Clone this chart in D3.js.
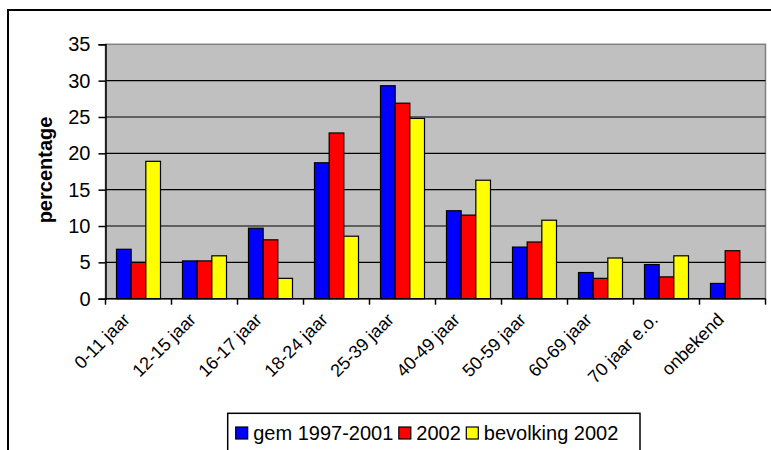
<!DOCTYPE html>
<html>
<head>
<meta charset="utf-8">
<script src="https://cdn.jsdelivr.net/npm/d3@7"></script>
<style>
  html, body { margin: 0; padding: 0; background: #fff; }
  svg { display: block; font-family: "Liberation Sans", Arial, sans-serif; }
</style>
</head>
<body>
<svg id="chart" width="771" height="450"></svg>
<script>
// Age groups and percentages per series
const categories = ["0-11 jaar", "12-15 jaar", "16-17 jaar", "18-24 jaar", "25-39 jaar",
                    "40-49 jaar", "50-59 jaar", "60-69 jaar", "70 jaar e.o.", "onbekend"];
const seriesNames = ["gem 1997-2001", "2002", "bevolking 2002"];
const gemValues = [6.8, 5.2, 9.7, 18.7, 29.3, 12.1, 7.1, 3.6, 4.7, 2.1];
const values2002 = [5.0, 5.2, 8.1, 22.8, 26.9, 11.5, 7.8, 2.8, 3.0, 6.6];
const bevolking2002 = [18.9, 5.9, 2.8, 8.6, 24.8, 16.3, 10.8, 5.6, 5.9, null];
const seriesColors = ["#0000FF", "#FF0000", "#FFFF00"];
const yTicks = [0, 5, 10, 15, 20, 25, 30, 35];

const seriesValues = [gemValues, values2002, bevolking2002];

const svg = d3.select("#chart");

// chart frame
svg.append("rect")
  .attr("x", 8).attr("y", 10).attr("width", 800).attr("height", 480)
  .attr("fill", "#fff").attr("stroke", "#000").attr("stroke-width", 2);

const plot = { left: 105.5, right: 765.5, top: 44.3, bottom: 298.7 };

const x = d3.scaleBand().domain(categories).range([plot.left, plot.right]).paddingInner(0).paddingOuter(0);
const xs = d3.scaleBand().domain(seriesNames).range([0, x.bandwidth()]).paddingInner(0).paddingOuter(0.75);
const y = d3.scaleLinear().domain([0, 35]).range([plot.bottom, plot.top]);

// plot background
svg.append("rect")
  .attr("x", plot.left).attr("y", plot.top)
  .attr("width", plot.right - plot.left).attr("height", plot.bottom - plot.top)
  .attr("fill", "#C0C0C0").attr("stroke", "#808080").attr("stroke-width", 1.5);

// gridlines
svg.append("g").selectAll("line")
  .data(yTicks.filter(t => t > 0 && t < 35))
  .join("line")
  .attr("x1", plot.left).attr("x2", plot.right)
  .attr("y1", d => y(d)).attr("y2", d => y(d))
  .attr("stroke", "#000").attr("stroke-width", 1.2);

// bars
const groups = svg.append("g").selectAll("g")
  .data(categories)
  .join("g")
  .attr("transform", d => `translate(${x(d)},0)`);

groups.selectAll("rect")
  .data((c, i) => seriesNames.map((s, k) => ({ s, v: seriesValues[k][i], k })).filter(d => d.v != null))
  .join("rect")
  .attr("x", d => xs(d.s))
  .attr("width", xs.bandwidth())
  .attr("y", d => y(d.v))
  .attr("height", d => y(0) - y(d.v))
  .attr("fill", d => seriesColors[d.k])
  .attr("stroke", "#000").attr("stroke-width", 1.2);

// y axis
const yAxis = d3.axisLeft(y).tickValues(yTicks).tickSize(7).tickPadding(8);
const gy = svg.append("g").attr("transform", `translate(${plot.left},0)`).call(yAxis);
gy.select(".domain").attr("stroke", "#000").attr("stroke-width", 1.5);
gy.selectAll(".tick line").attr("stroke", "#000").attr("stroke-width", 1.5);
gy.selectAll(".tick text").attr("font-size", 20).attr("font-family", "Liberation Sans, Arial, sans-serif").attr("fill", "#000");

// x axis with ticks at category boundaries
const gx = svg.append("g");
gx.append("line")
  .attr("x1", plot.left).attr("x2", plot.right)
  .attr("y1", plot.bottom).attr("y2", plot.bottom)
  .attr("stroke", "#000").attr("stroke-width", 1.5);
const boundaries = categories.map(c => x(c)).concat([x(categories[categories.length - 1]) + x.bandwidth()]);
gx.selectAll("line.tk")
  .data(boundaries)
  .join("line").attr("class", "tk")
  .attr("x1", d => d).attr("x2", d => d)
  .attr("y1", plot.bottom).attr("y2", plot.bottom + 6)
  .attr("stroke", "#000").attr("stroke-width", 1.5);
gx.selectAll("text")
  .data(categories)
  .join("text")
  .attr("transform", d => `translate(${x(d) + x.bandwidth() / 2 - 7.5},${plot.bottom + 22}) rotate(-45)`)
  .attr("text-anchor", "end")
  .attr("font-size", 18)
  .attr("fill", "#000")
  .text(d => d);

// y axis title
svg.append("text")
  .attr("transform", `translate(52,170) rotate(-90)`)
  .attr("text-anchor", "middle")
  .attr("font-size", 20)
  .attr("font-weight", "bold")
  .text("percentage");

// legend
const legend = svg.append("g");
const legendBox = legend.append("rect")
  .attr("fill", "#fff").attr("stroke", "#000").attr("stroke-width", 1.5);
let lx = 235.7;
const baseY = 440;
seriesNames.forEach((name, k) => {
  legend.append("rect")
    .attr("x", lx).attr("y", 427).attr("width", 12).attr("height", 12)
    .attr("fill", seriesColors[k]).attr("stroke", "#000").attr("stroke-width", 1.2);
  const t = legend.append("text")
    .attr("x", lx + 17.5).attr("y", baseY)
    .attr("font-size", 20).attr("fill", "#000")
    .text(name);
  lx += 17.5 + t.node().getComputedTextLength() + 5.5;
});
legendBox.attr("x", 227.7).attr("y", 413.3).attr("width", 640 - 227.7).attr("height", 45);
</script>
</body>
</html>
